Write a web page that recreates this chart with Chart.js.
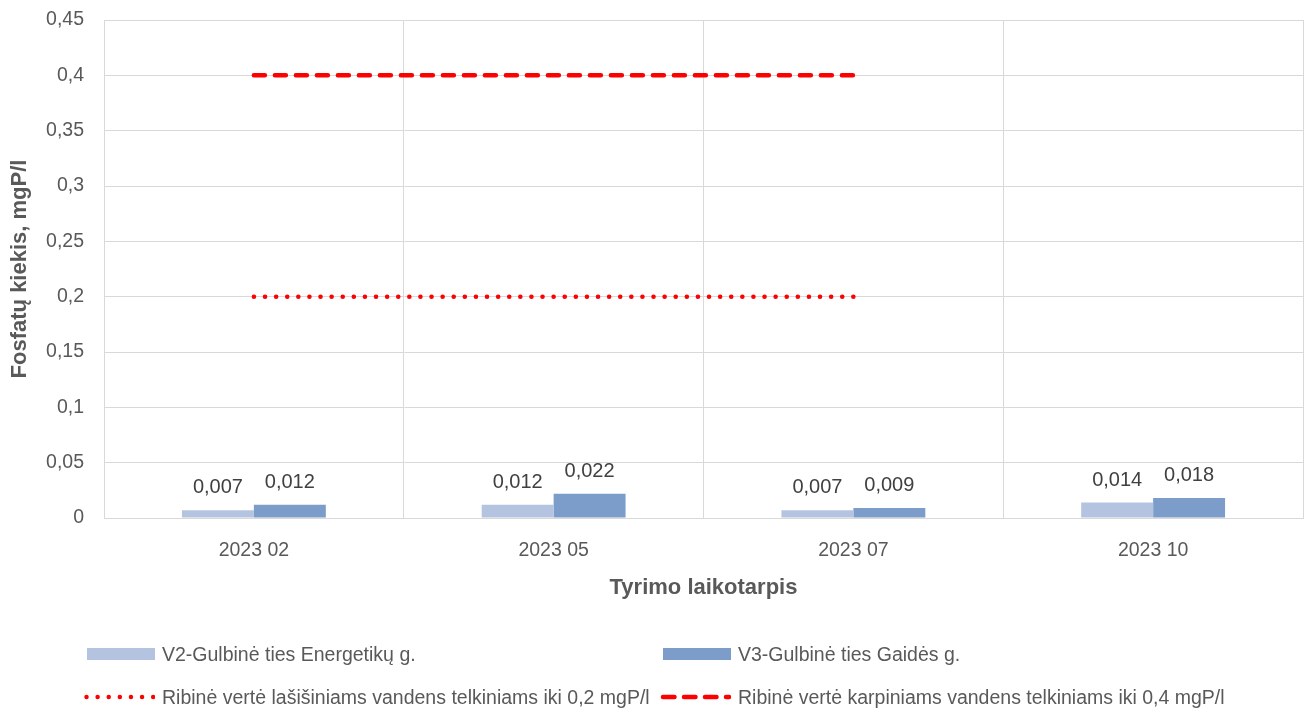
<!DOCTYPE html>
<html>
<head>
<meta charset="utf-8">
<script src="https://cdn.jsdelivr.net/npm/chart.js@4.4.0/dist/chart.umd.min.js"></script>
<style>
  body { margin: 0; background: #fff; }
  #wrap { position: relative; width: 1305px; height: 711px; }
  .legend-item { position: absolute; display: flex; align-items: center; height: 24px;
    font-family: 'Liberation Sans', Arial, sans-serif; font-size: 19.5px; color: #595959; white-space: nowrap; }
  .legend-item svg { margin-right: 7px; }
</style>
</head>
<body>
<div id="wrap">
  <canvas id="phosChart" width="1305" height="711"></canvas>
  <div class="legend-item" style="left:87px; top:642px;">
    <svg width="68" height="12"><rect x="0" y="0" width="68" height="12" fill="#b4c4e0"/></svg>V2-Gulbinė ties Energetikų g.
  </div>
  <div class="legend-item" style="left:663px; top:642px;">
    <svg width="68" height="12"><rect x="0" y="0" width="68" height="12" fill="#7c9cc9"/></svg>V3-Gulbinė ties Gaidės g.
  </div>
  <div class="legend-item" style="left:84px; top:685px;">
    <svg width="71" height="10"><line x1="2.5" y1="5" x2="70.5" y2="5" stroke="#ff0000" stroke-width="4.5" stroke-linecap="round" stroke-dasharray="0.01 11.1"/></svg>Ribinė vertė lašišiniams vandens telkiniams iki 0,2 mgP/l
  </div>
  <div class="legend-item" style="left:659px; top:685px;">
    <svg width="72" height="10"><line x1="4" y1="5" x2="70" y2="5" stroke="#ff0000" stroke-width="4.5" stroke-linecap="round" stroke-dasharray="11.5 9.5"/></svg>Ribinė vertė karpiniams vandens telkiniams iki 0,4 mgP/l
  </div>
</div>
<script>
// --------------------- Data ---------------------
const periods = ['2023 02', '2023 05', '2023 07', '2023 10'];
const v2Values = [0.007, 0.012, 0.007, 0.014];
const v3Values = [0.012, 0.022, 0.009, 0.018];
const salmonLimit = [0.2, 0.2, 0.2, null];
const carpLimit = [0.4, 0.4, 0.4, null];

const FONT = "'Liberation Sans', Arial, sans-serif";
const comma = v => String(Number(v.toFixed(3))).replace('.', ',');

// --------------------- Bar value labels ---------------------
const barLabels = {
  id: 'barLabels',
  afterDatasetsDraw(chart) {
    const ctx = chart.ctx;
    ctx.save();
    ctx.font = '20px ' + FONT;
    ctx.fillStyle = '#404040';
    ctx.textAlign = 'center';
    ctx.textBaseline = 'alphabetic';
    chart.data.datasets.forEach((ds, i) => {
      if (ds.type === 'line') return;
      chart.getDatasetMeta(i).data.forEach((bar, j) => {
        ctx.fillText(comma(ds.data[j]), bar.x, bar.y - 17);
      });
    });
    ctx.restore();
  }
};

// --------------------- Chart ---------------------
new Chart(document.getElementById('phosChart'), {
  type: 'bar',
  data: {
    labels: periods,
    datasets: [
      { label: 'V2-Gulbinė ties Energetikų g.', data: v2Values, backgroundColor: '#b4c4e0', order: 2 },
      { label: 'V3-Gulbinė ties Gaidės g.', data: v3Values, backgroundColor: '#7c9cc9', order: 2 },
      {
        type: 'line', label: 'Ribinė vertė lašišiniams vandens telkiniams iki 0,2 mgP/l',
        data: salmonLimit, borderColor: '#ff0000', borderWidth: 4.5,
        borderDash: [0.1, 11], borderCapStyle: 'round', pointRadius: 0, fill: false, order: 1
      },
      {
        type: 'line', label: 'Ribinė vertė karpiniams vandens telkiniams iki 0,4 mgP/l',
        data: carpLimit, borderColor: '#ff0000', borderWidth: 4.5,
        borderDash: [11, 10], borderCapStyle: 'round', pointRadius: 0, fill: false, order: 1
      }
    ]
  },
  options: {
    responsive: false,
    animation: false,
    devicePixelRatio: 1,
    layout: { padding: { top: 20, right: 2, bottom: 101, left: 0 } },
    datasets: { bar: { categoryPercentage: 0.48, barPercentage: 1.0 } },
    plugins: { legend: { display: false }, tooltip: { enabled: false } },
    scales: {
      x: {
        grid: { color: '#d9d9d9', drawTicks: false },
        border: { color: '#d9d9d9' },
        ticks: { color: '#595959', font: { family: FONT, size: 19.5 }, padding: 21 },
        title: { display: true, text: 'Tyrimo laikotarpis', color: '#595959',
          font: { family: FONT, size: 22, weight: 'bold' }, padding: { top: 0, bottom: 9 } },
        afterFit(scale) { scale.height = 92; }
      },
      y: {
        min: 0, max: 0.45,
        grid: { color: '#d9d9d9', drawTicks: false },
        border: { color: '#d9d9d9' },
        ticks: { stepSize: 0.05, color: '#595959', font: { family: FONT, size: 19.5 }, padding: 20,
          callback: v => comma(v) },
        title: { display: true, text: 'Fosfatų kiekis, mgP/l', color: '#595959',
          font: { family: FONT, size: 22, weight: 'bold' }, padding: { top: 7, bottom: 0 } },
        afterFit(scale) {
          scale.width = 104;
          scale.paddingTop = 0;
          scale.paddingBottom = 0;
        }
      }
    }
  },
  plugins: [barLabels]
});
</script>
</body>
</html>
